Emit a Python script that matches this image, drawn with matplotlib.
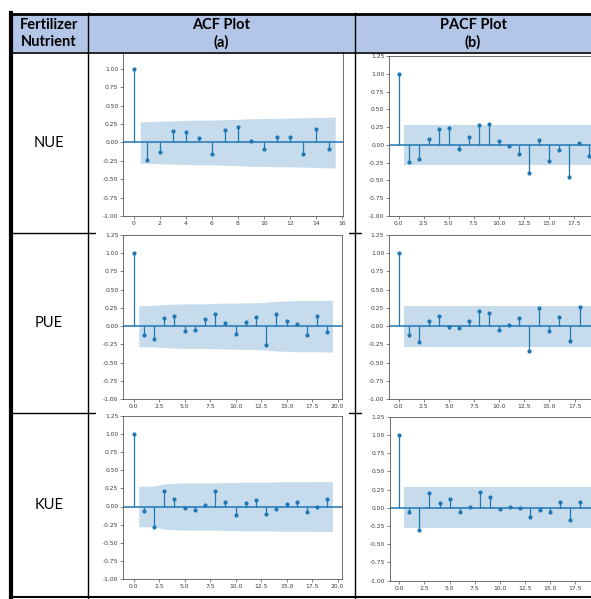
import matplotlib
matplotlib.use("Agg")
import matplotlib.pyplot as plt
import matplotlib.patches as patches
import matplotlib.lines as mlines
from matplotlib.transforms import Affine2D
from matplotlib.ticker import FormatStrFormatter
import numpy as np

W, H = 591, 599

# ---- data ----
nutrients = ['NUE', 'PUE', 'KUE']
col_titles = ['ACF Plot\n(a)', 'PACF Plot\n(b)']
row_title = 'Fertilizer\nNutrient'

nue_acf = [1.0, -0.232, -0.123, 0.155, 0.146, 0.064, -0.150, 0.173, 0.210, 0.027,
           -0.087, 0.073, 0.068, -0.159, 0.178, -0.091]
nue_acf_conf = [0.28, 0.29, 0.295, 0.30, 0.305, 0.305, 0.31, 0.315, 0.325, 0.325,
                0.33, 0.33, 0.335, 0.34, 0.348]

nue_pacf = [1.0, -0.238, -0.195, 0.082, 0.219, 0.238, -0.064, 0.115, 0.275, 0.299,
            0.054, -0.021, -0.134, -0.398, 0.068, -0.228, -0.073, -0.459, 0.026, -0.162]
nue_pacf_conf = 0.28

pue_acf = [1.0, -0.116, -0.180, 0.107, 0.144, -0.062, -0.048, 0.098, 0.162, 0.039,
           -0.103, 0.057, 0.130, -0.262, 0.162, 0.066, 0.034, -0.116, 0.134, -0.080]
pue_acf_conf = [0.28, 0.285, 0.295, 0.30, 0.305, 0.305, 0.305, 0.31, 0.315, 0.315,
                0.32, 0.32, 0.325, 0.34, 0.345, 0.35, 0.35, 0.35, 0.355]

pue_pacf = [1.0, -0.121, -0.216, 0.066, 0.144, -0.005, -0.025, 0.071, 0.203, 0.175,
            -0.052, 0.011, 0.112, -0.339, 0.244, -0.066, 0.130, -0.203, 0.257]
pue_pacf_conf = 0.28

kue_acf = [1.0, -0.057, -0.286, 0.208, 0.108, -0.021, -0.053, 0.025, 0.208, 0.062,
           -0.121, 0.048, 0.089, -0.103, -0.039, 0.039, 0.066, -0.080, 0.0, 0.103]
kue_acf_conf = [0.278, 0.28, 0.31, 0.32, 0.325, 0.325, 0.325, 0.325, 0.33, 0.33,
                0.335, 0.335, 0.335, 0.34, 0.34, 0.34, 0.34, 0.342, 0.342]

kue_pacf = [1.0, -0.062, -0.304, 0.199, 0.062, 0.126, -0.057, 0.011, 0.222, 0.144,
            -0.021, 0.011, -0.002, -0.130, -0.025, -0.057, 0.080, -0.167, 0.080]
kue_pacf_conf = 0.28

fig = plt.figure(figsize=(W / 100, H / 100), dpi=100)
fig.patch.set_facecolor('white')

# pixel coords (origin top-left) -> figure
pix = Affine2D().scale(1 / W, -1 / H).translate(0, 1) + fig.transFigure


def hline(y, x0, x1, lw=1.0, z=1):
    fig.add_artist(mlines.Line2D([x0, x1], [y, y], color='black', lw=lw, transform=pix, zorder=z))


def vline(x, y0, y1, lw=1.0, z=1):
    fig.add_artist(mlines.Line2D([x, x], [y0, y1], color='black', lw=lw, transform=pix, zorder=z))


def rect(x, y, w, h, color, z):
    fig.add_artist(patches.Rectangle((x, y), w, h, facecolor=color, edgecolor='none',
                                     transform=pix, zorder=z))


# table grid
vline(88, 13, 599)
vline(354.5, 13, 599)
hline(233, 10, 591)
hline(413, 10, 591)
hline(597, 10, 591, lw=1.5)

# white backgrounds of the pasted plot images (they hide the row lines)
for top, bot in [(53, 228), (231, 410), (411, 593)]:
    rect(96, top, 253, bot - top, 'white', 2)
    rect(362, top, 229, bot - top, 'white', 2)


def panel(box, xlim, vals, conf, xticks, xfmt, show_top=True):
    left, top, right, bottom = box
    ax = fig.add_axes([left / W, 1 - bottom / H, (right - left) / W, (bottom - top) / H])
    ax.set_zorder(3)
    lags = np.arange(len(vals))
    ax.vlines(lags, 0, vals, color='C0', lw=0.9)
    ax.axhline(0, color='C0', lw=1.1)
    ax.plot(lags, vals, 'o', color='C0', ms=3.0, mec='none')
    if np.ndim(conf) == 0:
        bx = [0.5, 19.5]
        bc = np.array([conf, conf])
    else:
        bc = np.array(conf)
        bx = np.arange(1, len(bc) + 1).astype(float)
        bx[0] -= 0.5
        bx[-1] += 0.5
    ax.fill_between(bx, -bc, bc, color='C0', alpha=0.25, lw=0)
    ax.set_xlim(*xlim)
    ax.set_ylim(-1, 1.25)
    ax.set_xticks(xticks)
    ax.xaxis.set_major_formatter(FormatStrFormatter(xfmt))
    yt = np.arange(-1, 1.26, 0.25) if show_top else np.arange(-1, 1.01, 0.25)
    ax.set_yticks(yt)
    ax.yaxis.set_major_formatter(FormatStrFormatter('%.2f'))
    ax.tick_params(labelsize=4.3, length=2, width=0.5, pad=1.5, colors='#555555',
                   labelcolor='#3a3a3a')
    for s in ax.spines.values():
        s.set_color('#555555')
        s.set_linewidth(0.6)
    if not show_top:
        ax.spines['top'].set_visible(False)
    return ax


ticks25 = np.arange(0, 17.6, 2.5)
ticks25_acf = np.arange(0, 20.1, 2.5)
panel((123.3, 50.6, 343.0, 216.0), (-0.8, 16.1), nue_acf, nue_acf_conf,
      np.arange(0, 17, 2), '%d', show_top=False)
panel((389.2, 56.3, 598.2, 215.7), (-0.95, 19.95), nue_pacf, nue_pacf_conf, ticks25, '%.1f')
panel((123.3, 234.7, 342.1, 399.3), (-1.02, 20.45), pue_acf, pue_acf_conf, ticks25_acf, '%.1f')
panel((389.1, 234.7, 599.2, 399.3), (-0.95, 19.95), pue_pacf, pue_pacf_conf, ticks25, '%.1f')
panel((123.3, 415.5, 342.1, 579.3), (-1.02, 20.45), kue_acf, kue_acf_conf, ticks25_acf, '%.1f')
panel((389.8, 416.8, 599.8, 580.7), (-0.95, 19.95), kue_pacf, kue_pacf_conf, ticks25, '%.1f')

# header row
rect(11, 14, 580, 38, '#b4c6e7', 5)
hline(14, 10, 591, lw=2.0, z=6)
hline(52.5, 10, 591, lw=1.2, z=6)
vline(88, 13, 53, z=6)
vline(354.5, 13, 53, z=6)
vline(11, 13, 599, lw=3.0, z=6)

hdr = dict(family=['Lato', 'DejaVu Sans'], fontweight='bold', fontsize=10.5,
           ha='center', va='center', linespacing=1.25, transform=pix, zorder=7)
fig.text(49, 33.5, row_title, **hdr)
fig.text(221, 33.5, col_titles[0], **hdr)
fig.text(473, 33.5, col_titles[1], **hdr)

for name, y in zip(nutrients, [143, 323, 505]):
    fig.text(49, y, name, family=['Lato', 'DejaVu Sans'], fontsize=10.5,
             ha='center', va='center', transform=pix, zorder=7)

fig.savefig('out.png', dpi=100)
